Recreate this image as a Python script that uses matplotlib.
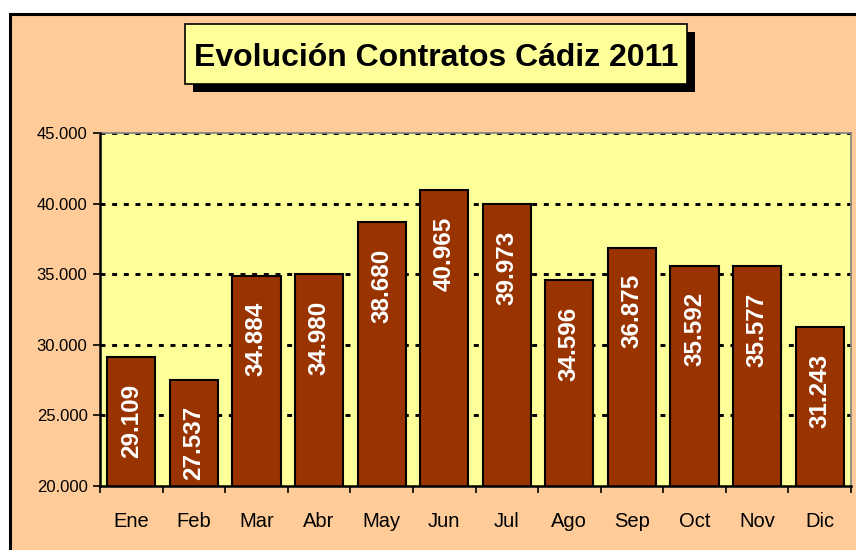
import matplotlib
matplotlib.use("Agg")
import matplotlib.pyplot as plt
from matplotlib.patches import Rectangle
from matplotlib.ticker import FuncFormatter, FixedLocator
import numpy as np

months = ["Ene", "Feb", "Mar", "Abr", "May", "Jun", "Jul", "Ago", "Sep", "Oct", "Nov", "Dic"]
contratos = [29109, 27537, 34884, 34980, 38680, 40965, 39973, 34596, 36875, 35592, 35577, 31243]
title = "Evolución Contratos Cádiz 2011"
y_ticks = [20000, 25000, 30000, 35000, 40000, 45000]

plt.rcParams['font.family'] = ['Liberation Sans', 'DejaVu Sans']

W, H = 856, 550
fig = plt.figure(figsize=(W / 100, H / 100), dpi=100)
fig.patch.set_facecolor("white")

def px(x0, y0, w, h):
    # convert pixel box (top-left origin) to figure fraction
    return (x0 / W, 1 - (y0 + h) / H, w / W, h / H)

# outer chart area (peach) with black border
x0, y0, w, h = px(10, 14, 870, 560)
fig.patches.append(Rectangle((x0, y0), w, h, transform=fig.transFigure,
                             facecolor="#FFCC99", edgecolor="black", linewidth=2.2, zorder=-10))

ax = fig.add_axes(px(100, 133, 751, 353))
ax.set_zorder(1)
ax.set_facecolor("#FFFF99")

x = np.arange(len(months))
bars = ax.bar(x, contratos, width=0.77, color="#993300", edgecolor="black", linewidth=1.5, zorder=3)

ax.set_xlim(-0.5, len(months) - 0.5)
ax.set_ylim(y_ticks[0], y_ticks[-1])
ax.set_yticks(y_ticks)
ax.yaxis.set_major_formatter(FuncFormatter(lambda v, p: f"{int(v):,}".replace(",", ".")))

ax.set_xticks(x)
ax.set_xticklabels(months, fontsize=14.5)
ax.xaxis.set_minor_locator(FixedLocator(np.arange(-0.5, len(months), 1.0)))
ax.tick_params(axis="x", which="major", length=0, pad=19)
ax.tick_params(axis="x", which="minor", length=5, width=1.2, direction="out")
ax.tick_params(axis="y", length=5, width=1.2, direction="out", labelsize=12, pad=4)

for t in y_ticks[1:]:
    ax.axhline(t, color="black", linewidth=2.1, linestyle=(0, (1.7, 2.3)), zorder=2)

for s in ["top", "right"]:
    ax.spines[s].set_color("#808080")
    ax.spines[s].set_linewidth(1.2)
for s in ["left", "bottom"]:
    ax.spines[s].set_color("black")
    ax.spines[s].set_linewidth(1.8)
    ax.spines[s].set_zorder(5)

for xi, v in zip(x, contratos):
    ax.annotate(f"{v:,}".replace(",", "."), xy=(xi, v), xytext=(0, -19),
                textcoords="offset points", rotation=90, ha="center", va="top",
                color="white", fontsize=17.5, fontweight="bold", zorder=6)

# title box with shadow
sx, sy, sw, sh = px(193, 32, 502, 60)
fig.patches.append(Rectangle((sx, sy), sw, sh, transform=fig.transFigure,
                             facecolor="black", edgecolor="black", linewidth=0, zorder=2))
bx, by, bw, bh = px(185, 24, 502, 60)
fig.patches.append(Rectangle((bx, by), bw, bh, transform=fig.transFigure,
                             facecolor="#FFFF99", edgecolor="black", linewidth=1.2, zorder=3))
fig.text(bx + bw / 2, by + bh / 2, title, ha="center", va="center_baseline",
         fontsize=23, fontweight="bold", color="black", zorder=4)

fig.savefig("out.png", dpi=100, facecolor=fig.get_facecolor())
